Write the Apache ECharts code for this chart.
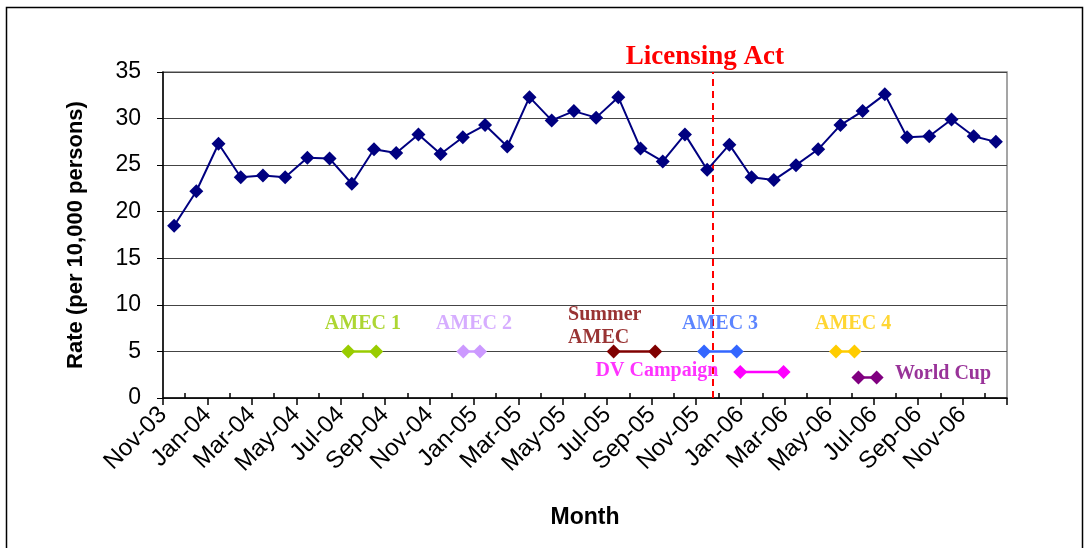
<!DOCTYPE html>
<html>
<head>
<meta charset="utf-8">
<script src="https://cdn.jsdelivr.net/npm/echarts@6/dist/echarts.min.js"></script>
<style>
  html, body { margin: 0; padding: 0; background: #fff; }
  #chart { width: 1089px; height: 548px; }
</style>
</head>
<body>
<div id="chart"></div>
<script>
// months Nov-03 .. Dec-06
var months = ['Nov-03','Dec-03','Jan-04','Feb-04','Mar-04','Apr-04','May-04','Jun-04','Jul-04','Aug-04',
  'Sep-04','Oct-04','Nov-04','Dec-04','Jan-05','Feb-05','Mar-05','Apr-05','May-05','Jun-05','Jul-05',
  'Aug-05','Sep-05','Oct-05','Nov-05','Dec-05','Jan-06','Feb-06','Mar-06','Apr-06','May-06','Jun-06',
  'Jul-06','Aug-06','Sep-06','Oct-06','Nov-06','Dec-06'];
var rate = [18.5, 22.2, 27.3, 23.7, 23.9, 23.7, 25.8, 25.7, 23.0, 26.7, 26.3, 28.3, 26.2, 28.0, 29.3,
  27.0, 32.3, 29.8, 30.8, 30.1, 32.3, 26.8, 25.4, 28.3, 24.5, 27.2, 23.7, 23.4, 25.0, 26.7, 29.3,
  30.8, 32.6, 28.0, 28.1, 29.9, 28.1, 27.5];
var yTicks = [0, 5, 10, 15, 20, 25, 30, 35];

// campaigns: start / end in months since 1 Nov 2003, and level drawn at
var campNames = ['AMEC 1', 'AMEC 2', 'Summer AMEC', 'AMEC 3', 'DV Campaign', 'AMEC 4', 'World Cup'];
var campStart = [8.34, 13.52, 20.29, 24.36, 25.99, 30.30, 31.31];
var campEnd   = [9.60, 14.27, 22.16, 25.83, 27.94, 31.13, 32.13];
var campLevel = [5, 5, 5, 5, 2.8, 5, 2.2];
var campColor = ['#99cc00', '#cc99ff', '#800000', '#3366ff', '#ff00ff', '#ffcc00', '#800080'];
// where each campaign name sits (month, rate)
var noteX = [9.0, 14.0, 18.24, 25.08, 22.24, 31.07, 35.12];
var noteY = [8, 8, 7.7, 8, 2.9, 8, 2.6];
var noteText = ['AMEC 1', 'AMEC 2', 'Summer\nAMEC', 'AMEC 3', 'DV Campaign', 'AMEC 4', 'World Cup'];
var noteAlign = ['center', 'center', 'left', 'center', 'center', 'center', 'center'];

var licensingAct = 24.76;

var serif = "'Liberation Serif', 'Times New Roman', serif";
var sans = "'Liberation Sans', Arial, sans-serif";

var chart = echarts.init(document.getElementById('chart'));

var majorTicks = [], minorTicks = [];
for (var i = 0; i <= months.length; i++) {
  if (i % 2 === 0) majorTicks.push(i); else minorTicks.push(i);
}

var series = [{
  name: 'Rate',
  type: 'line',
  data: rate.map(function (v, i) { return [i + 0.5, v]; }),
  symbol: 'diamond',
  symbolSize: 14,
  itemStyle: { color: '#000080' },
  lineStyle: { color: '#000080', width: 2 },
  z: 5,
  markLine: {
    silent: true,
    symbol: 'none',
    lineStyle: { color: '#ff0000', type: [7, 5], width: 2 },
    label: {
      show: true, position: 'end', formatter: 'Licensing Act', distance: 4, offset: [-8, 3],
      color: '#ff0000', fontFamily: serif, fontWeight: 'bold', fontSize: 27
    },
    data: [{ xAxis: licensingAct }]
  }
}];

campNames.forEach(function (n, k) {
  series.push({
    name: n,
    type: 'line',
    data: [[campStart[k], campLevel[k]], [campEnd[k], campLevel[k]]],
    symbol: 'diamond',
    symbolSize: 14,
    itemStyle: { color: campColor[k] },
    lineStyle: { color: campColor[k], width: 2.5 },
    z: 4
  });
});

series.push({
  name: 'notes',
  type: 'scatter',
  symbolSize: 0,
  silent: true,
  z: 6,
  data: noteX.map(function (x, k) {
    return {
      value: [x, noteY[k]],
      label: {
        show: true, position: 'inside', formatter: noteText[k], align: noteAlign[k],
        color: campColor[k], fontFamily: serif, fontWeight: 'bold', fontSize: 20, lineHeight: 23
      }
    };
  })
});

chart.setOption({
  animation: false,
  backgroundColor: '#fff',
  grid: { left: 163, right: 82, top: 72, bottom: 150, show: true, borderColor: '#888', borderWidth: 1.5 },
  xAxis: [{
    type: 'value', min: 0, max: months.length,
    axisLine: { show: true, lineStyle: { color: '#000', width: 1.5 } },
    axisTick: { show: true, customValues: majorTicks, length: 7, lineStyle: { color: '#000', width: 1.5 } },
    axisLabel: {
      customValues: majorTicks,
      formatter: function (v) { return months[v] || ''; },
      rotate: 45, margin: 13, color: '#000', fontFamily: sans, fontSize: 24
    },
    splitLine: { show: false },
    name: 'Month', nameLocation: 'middle', nameGap: 108,
    nameTextStyle: { color: '#000', fontFamily: sans, fontWeight: 'bold', fontSize: 23 }
  }, {
    type: 'value', min: 0, max: months.length, position: 'bottom',
    axisLine: { show: false },
    axisTick: { show: true, inside: true, customValues: minorTicks, length: 5, lineStyle: { color: '#000', width: 1.5 } },
    axisLabel: { show: false },
    splitLine: { show: false }
  }],
  yAxis: {
    type: 'value', min: 0, max: 35, interval: 5,
    axisLine: { show: true, lineStyle: { color: '#000', width: 1.5 } },
    axisTick: { show: true, length: 6, lineStyle: { color: '#000' } },
    axisLabel: {
      formatter: function (v) { return yTicks.indexOf(v) >= 0 ? String(v) : ''; },
      margin: 22, color: '#000', fontFamily: sans, fontSize: 23
    },
    splitLine: { show: true, lineStyle: { color: '#444', width: 1 } },
    name: 'Rate (per 10,000 persons)', nameLocation: 'middle', nameGap: 76, nameRotate: 90,
    nameTextStyle: { color: '#000', fontFamily: sans, fontWeight: 'bold', fontSize: 22 }
  },
  graphic: [{
    type: 'rect', silent: true,
    shape: { x: 6.5, y: 7.5, width: 1076, height: 570 },
    style: { fill: 'none', stroke: '#000', lineWidth: 1.5 }
  }],
  series: series
});
</script>
</body>
</html>
